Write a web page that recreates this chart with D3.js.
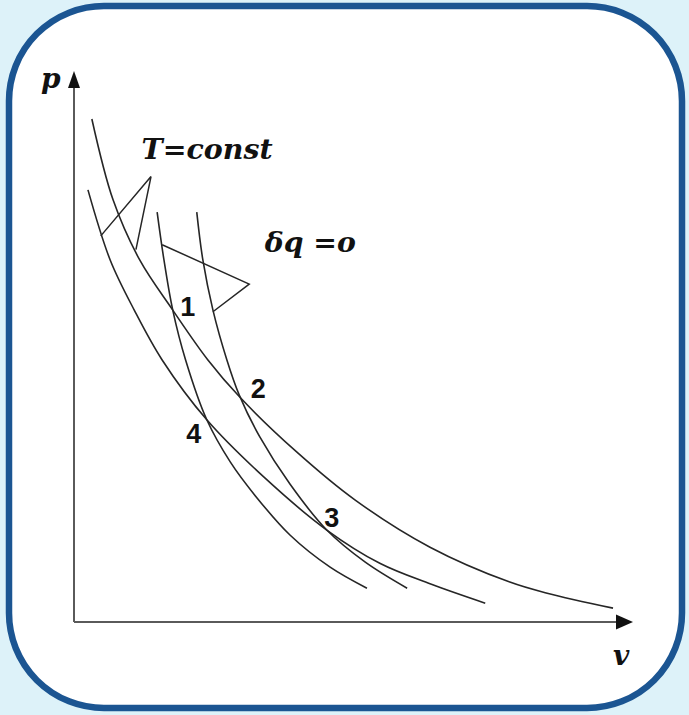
<!DOCTYPE html>
<html>
<head>
<meta charset="utf-8">
<script src="https://cdn.jsdelivr.net/npm/d3@7"></script>
<style>
  html, body { margin: 0; padding: 0; background: #ddf2f9; }
  svg { display: block; }
</style>
</head>
<body>
<svg id="chart" width="689" height="715"></svg>
<script>
// ---- Data (v, p in arbitrary units) ----
const isothermHighV = [0.32, 0.70, 1.18, 1.77, 2.40, 2.97, 3.99, 5.04, 6.38, 7.81, 8.48, 9.66];
const isothermHighP = [9.08, 7.62, 6.53, 5.63, 4.73, 4.06, 3.07, 2.20, 1.35, 0.72, 0.52, 0.25];

const isothermLowV = [0.25, 0.65, 1.08, 1.58, 2.38, 3.42, 4.53, 5.48, 6.38, 7.37];
const isothermLowP = [7.80, 6.53, 5.63, 4.73, 3.65, 2.60, 1.66, 1.06, 0.69, 0.34];

const adiabatLeftV = [1.49, 1.61, 1.77, 2.00, 2.38, 2.80, 3.24, 3.87, 4.59, 5.25];
const adiabatLeftP = [7.40, 6.55, 5.63, 4.73, 3.65, 2.89, 2.29, 1.57, 0.99, 0.61];

const adiabatRightV = [2.20, 2.31, 2.49, 2.74, 2.96, 3.33, 3.87, 4.53, 5.22, 5.97];
const adiabatRightP = [7.40, 6.53, 5.63, 4.73, 4.10, 3.34, 2.49, 1.66, 1.08, 0.61];

// cycle state points
const stateLabels = ["1", "2", "3", "4"];
const stateV = [1.77, 2.96, 4.53, 2.38];
const stateP = [5.63, 4.08, 1.66, 3.65];

// leader lines (polylines) for annotations
const leaderTV = [0.48, 1.38, 1.11];
const leaderTP = [6.97, 8.04, 6.72];
const leaderQV = [1.58, 3.14, 2.49];
const leaderQP = [6.81, 6.10, 5.60];

const annotTexts = ["T=const", "δq =o"];
const axisLabels = ["p", "v"];

// ---- Drawing ----
const svg = d3.select("#chart");

// frame
svg.append("rect")
  .attr("x", 9).attr("y", 6)
  .attr("width", 673).attr("height", 702)
  .attr("rx", 95).attr("ry", 95)
  .attr("fill", "#ffffff")
  .attr("stroke", "#1b5592")
  .attr("stroke-width", 6.5);

const x = d3.scaleLinear().domain([0, 10]).range([74, 632]);
const y = d3.scaleLinear().domain([0, 10]).range([622, 68]);

// axes
const axisColor = "#5a5a5a";
svg.append("line")
  .attr("x1", x(0)).attr("y1", y(0))
  .attr("x2", x(0)).attr("y2", y(0) - 540)
  .attr("stroke", axisColor).attr("stroke-width", 2);
svg.append("line")
  .attr("x1", x(0)).attr("y1", y(0))
  .attr("x2", x(10) - 8).attr("y2", y(0))
  .attr("stroke", axisColor).attr("stroke-width", 2);

// arrowheads
const yTip = y(0) - 551;
svg.append("path")
  .attr("d", `M${x(0)},${yTip} L${x(0) - 6},${yTip + 17} L${x(0) + 6},${yTip + 17} Z`)
  .attr("fill", "#111");
const xTip = x(10) + 1;
svg.append("path")
  .attr("d", `M${xTip},${y(0)} L${xTip - 17},${y(0) - 7.5} L${xTip - 17},${y(0) + 7.5} Z`)
  .attr("fill", "#111");

// axis labels
const serif = "'DejaVu Serif', 'Liberation Serif', serif";
svg.append("text")
  .attr("x", x(0) - 33).attr("y", y(0) - 534)
  .attr("font-family", serif).attr("font-weight", "bold").attr("font-style", "italic")
  .attr("font-size", 28).attr("fill", "#111")
  .text(axisLabels[0]);
svg.append("text")
  .attr("x", x(10) - 19).attr("y", y(0) + 43)
  .attr("font-family", serif).attr("font-weight", "bold").attr("font-style", "italic")
  .attr("font-size", 28).attr("fill", "#111")
  .text(axisLabels[1]);

// curves
const line = d3.line()
  .x(d => x(d[0]))
  .y(d => y(d[1]))
  .curve(d3.curveCatmullRom.alpha(0.5));

const curves = [
  d3.zip(isothermHighV, isothermHighP),
  d3.zip(isothermLowV, isothermLowP),
  d3.zip(adiabatLeftV, adiabatLeftP),
  d3.zip(adiabatRightV, adiabatRightP)
];

svg.append("g")
  .selectAll("path")
  .data(curves)
  .join("path")
  .attr("d", line)
  .attr("fill", "none")
  .attr("stroke", "#262626")
  .attr("stroke-width", 1.6);

// leader lines
const straight = d3.line().x(d => x(d[0])).y(d => y(d[1]));
svg.append("g")
  .selectAll("path")
  .data([d3.zip(leaderTV, leaderTP), d3.zip(leaderQV, leaderQP)])
  .join("path")
  .attr("d", straight)
  .attr("fill", "none")
  .attr("stroke", "#262626")
  .attr("stroke-width", 1.5);

// annotation texts
svg.append("text")
  .attr("x", x(1.21)).attr("y", y(8.35))
  .attr("font-family", serif).attr("font-weight", "bold").attr("font-style", "italic")
  .attr("font-size", 27).attr("fill", "#111")
  .attr("textLength", 131).attr("lengthAdjust", "spacingAndGlyphs")
  .text(annotTexts[0]);
svg.append("text")
  .attr("x", x(3.42)).attr("y", y(6.68))
  .attr("font-family", serif).attr("font-weight", "bold").attr("font-style", "italic")
  .attr("font-size", 27).attr("fill", "#111")
  .attr("textLength", 91).attr("lengthAdjust", "spacingAndGlyphs")
  .text(annotTexts[1]);

// state point labels
const labelOffsets = { "1": [15, -3], "2": [19, -7], "3": [5, -12], "4": [-13, 14] };
svg.append("g")
  .selectAll("text")
  .data(d3.zip(stateLabels, stateV, stateP))
  .join("text")
  .attr("x", d => x(d[1]) + labelOffsets[d[0]][0])
  .attr("y", d => y(d[2]) + labelOffsets[d[0]][1])
  .attr("text-anchor", "middle")
  .attr("dominant-baseline", "central")
  .attr("font-family", "'Liberation Sans', Arial, sans-serif")
  .attr("font-weight", "bold")
  .attr("font-size", 27)
  .attr("fill", "#111")
  .text(d => d[0]);
</script>
</body>
</html>
